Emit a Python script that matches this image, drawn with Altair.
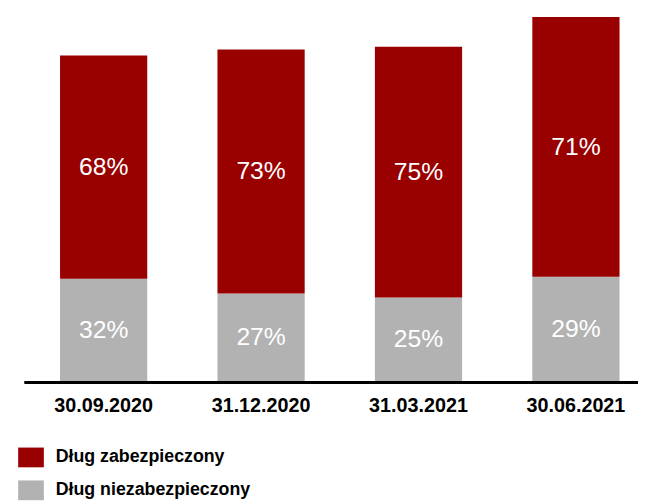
import altair as alt
import pandas as pd

dates = ["30.09.2020", "31.12.2020", "31.03.2021", "30.06.2021"]
series_names = ["Dług zabezpieczony", "Dług niezabezpieczony"]
secured = [226, 247, 254, 263]
unsecured = [104, 89, 85, 106]
secured_labels = ["68%", "73%", "75%", "71%"]
unsecured_labels = ["32%", "27%", "25%", "29%"]
colors = ["#990000", "#B2B2B2"]

rows = []
for i, d in enumerate(dates):
    rows.append({"date": d, "series": series_names[1], "value": unsecured[i],
                 "label": unsecured_labels[i], "order": 0})
    rows.append({"date": d, "series": series_names[0], "value": secured[i],
                 "label": secured_labels[i], "order": 1})
df = pd.DataFrame(rows)

FONT = "Liberation Sans"

base = alt.Chart(df).transform_stack(
    stack="value", as_=["v0", "v1"], groupby=["date"],
    sort=[alt.SortField("order", order="ascending")]
).transform_calculate(mid="(datum.v0 + datum.v1) / 2")

xscale = alt.Scale(type="band", range=[40.7, 607.3], paddingInner=0.446, paddingOuter=0)
yscale = alt.Scale(domain=[0, 373], nice=False, zero=True)

x = alt.X("date:N", sort=dates, title=None, scale=xscale,
          axis=alt.Axis(domain=False, ticks=False,
                        labelFontSize=20, labelFontWeight="bold", labelColor="black",
                        labelFont=FONT, labelPadding=14, labelAngle=0, grid=False,
                        labelLimit=300))

bars = base.mark_bar().encode(
    x=x,
    y=alt.Y("v0:Q", scale=yscale, axis=None),
    y2="v1:Q",
    color=alt.Color("series:N", scale=alt.Scale(domain=series_names, range=colors),
                    legend=alt.Legend(orient="none", legendX=1.3, legendY=440, title=None,
                                      symbolType="M-1.3,-1H1.3V1H-1.3Z", symbolSize=400,
                                      labelFontSize=18, labelFontWeight="bold",
                                      labelFont=FONT, labelColor="black", labelLimit=400,
                                      rowPadding=13.3, labelOffset=15,
                                      symbolStrokeWidth=0, padding=0,
                                      direction="vertical")),
)

texts = base.mark_text(color="white", fontSize=25, font=FONT, baseline="middle").encode(
    x=alt.X("date:N", sort=dates, scale=xscale),
    y=alt.Y("mid:Q", scale=yscale),
    text="label:N",
)

baseline = alt.Chart(df).mark_rule(color="black", strokeWidth=2, yOffset=1).encode(
    x=alt.value(5), x2=alt.value(626), y=alt.datum(0, scale=yscale)
)

chart = alt.layer(bars, texts, baseline).properties(
    width=626, height=373,
    autosize=alt.AutoSizeParams(type="none"),
    padding={"left": 12, "top": 2, "right": 0, "bottom": 120},
).configure_view(stroke=None)

chart.save("out.html", embed_options={"renderer": "svg", "actions": False})
